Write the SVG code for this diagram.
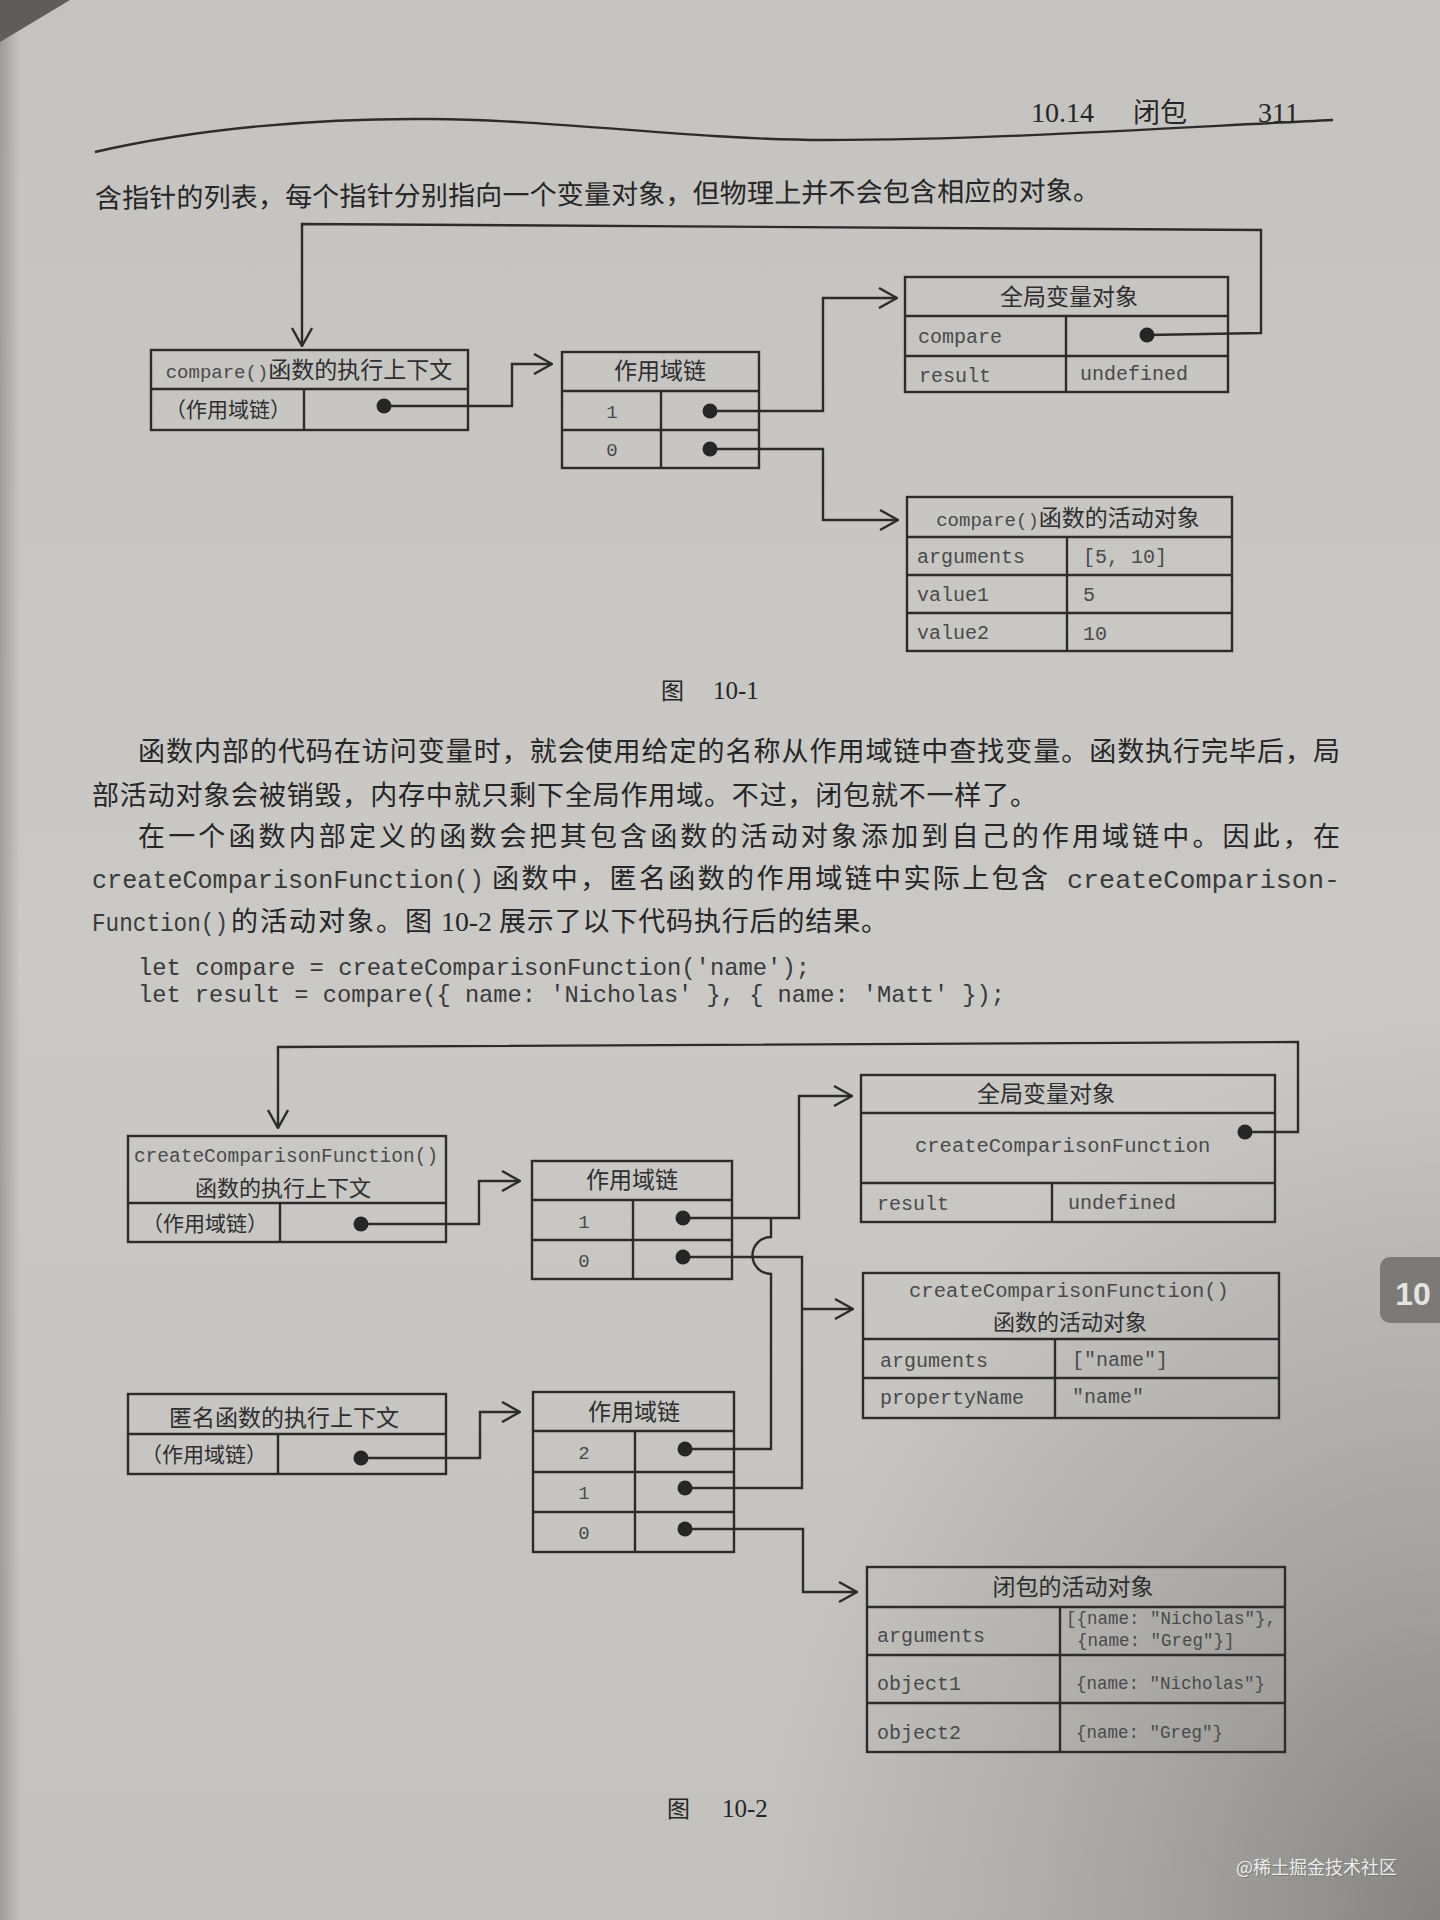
<svg xmlns="http://www.w3.org/2000/svg" width="1440" height="1920" viewBox="0 0 1440 1920">
<defs>
<style>
.ln{fill:none;stroke:#2c2c2c;stroke-width:2.4;stroke-linejoin:miter}
.bx{fill:none;stroke:#2c2c2c;stroke-width:2.4}
.cn{font-family:"Noto Sans CJK SC",sans-serif;fill:#2e2e2e}
.mono{font-family:"Liberation Mono","DejaVu Sans Mono",monospace;fill:#4a4a4a}
.body{font-family:"Liberation Serif","Noto Sans CJK SC",serif;fill:#262626;font-size:27px}
.bmono{font-family:"Liberation Mono",monospace;fill:#3a3a3a;font-size:25px}
.code{font-family:"Liberation Mono",monospace;fill:#3a3a3a;font-size:24px}
.dot{fill:#262626}
</style>
<marker id="ar" viewBox="0 0 20 22" refX="19" refY="11" markerWidth="20" markerHeight="22" markerUnits="userSpaceOnUse" orient="auto">
<path d="M1,1 L19,11 L1,21" fill="none" stroke="#2c2c2c" stroke-width="2.4"/>
</marker>
<radialGradient id="shadeBR" cx="1440" cy="1920" r="900" gradientUnits="userSpaceOnUse" gradientTransform="translate(1440 1920) scale(0.75 1) translate(-1440 -1920)">
<stop offset="0" stop-color="#6f6e6b" stop-opacity="0.75"/>
<stop offset="0.6" stop-color="#8a8986" stop-opacity="0.35"/>
<stop offset="1" stop-color="#8a8986" stop-opacity="0"/>
</radialGradient>
<linearGradient id="shadeL" x1="0" y1="0" x2="1" y2="0">
<stop offset="0" stop-color="#7d7c79" stop-opacity="0.55"/>
<stop offset="1" stop-color="#7d7c79" stop-opacity="0"/>
</linearGradient>
<linearGradient id="paper" x1="0" y1="0" x2="0" y2="1">
<stop offset="0" stop-color="#c4c3bf"/>
<stop offset="0.5" stop-color="#cac9c5"/>
<stop offset="1" stop-color="#c2c1bd"/>
</linearGradient>
</defs>

<!-- page background -->
<rect x="0" y="0" width="1440" height="1920" fill="url(#paper)"/>
<rect x="0" y="0" width="1440" height="1920" fill="url(#shadeBR)"/>
<rect x="0" y="0" width="20" height="1920" fill="url(#shadeL)"/>
<polygon points="0,0 70,0 0,42" fill="#5e5d5a"/>

<!-- header -->
<path class="ln" d="M95,152 C200,128 320,118 430,119 C560,120 700,140 826,140 C1000,140 1200,126 1333,120" stroke-width="2.6"/>
<text x="1031" y="122" font-family="Liberation Serif, serif" font-size="28" fill="#262626">10.14</text>
<text x="1133" y="122" font-family="Liberation Serif, Noto Sans CJK SC, serif" font-size="27" fill="#262626">闭包</text>
<text x="1258" y="122" font-family="Liberation Serif, serif" font-size="28" fill="#262626">311</text>

<text class="body" x="95" y="208" textLength="1005" lengthAdjust="spacing" transform="rotate(-0.45 95 208)">含指针的列表，每个指针分别指向一个变量对象，但物理上并不会包含相应的对象。</text>

<!-- ===== Figure 10-1 ===== -->
<g id="fig1-connectors">
<path class="ln" d="M1147,335 L1261,333 L1261,230 L302,224 L302,346" marker-end="url(#ar)"/>
<path class="ln" d="M384,406 H512 V364 H552" marker-end="url(#ar)"/>
<path class="ln" d="M710,411 H823 V298 H897" marker-end="url(#ar)"/>
<path class="ln" d="M710,449 H823 V520 H898" marker-end="url(#ar)"/>
</g>

<g id="f1-compare-context">
<rect class="bx" x="151" y="350" width="317" height="80"/>
<line class="bx" x1="151" y1="389" x2="468" y2="389"/>
<line class="bx" x1="304" y1="389" x2="304" y2="430"/>
<text x="309" y="378" text-anchor="middle"><tspan class="mono" font-size="19">compare()</tspan><tspan class="cn" font-size="23">函数的执行上下文</tspan></text>
<text class="cn" x="228" y="417" font-size="21" text-anchor="middle">（作用域链）</text>
<circle class="dot" cx="384" cy="406" r="7.5"/>
</g>

<g id="f1-scope-chain">
<rect class="bx" x="562" y="352" width="197" height="116"/>
<line class="bx" x1="562" y1="391" x2="759" y2="391"/>
<line class="bx" x1="562" y1="430" x2="759" y2="430"/>
<line class="bx" x1="661" y1="391" x2="661" y2="468"/>
<text class="cn" x="660" y="379" font-size="23" text-anchor="middle">作用域链</text>
<text class="mono" x="612" y="418" font-size="19" text-anchor="middle">1</text>
<text class="mono" x="612" y="456" font-size="19" text-anchor="middle">0</text>
<circle class="dot" cx="710" cy="411" r="7.5"/>
<circle class="dot" cx="710" cy="449" r="7.5"/>
</g>

<g id="f1-global-object">
<rect class="bx" x="905" y="277" width="323" height="115"/>
<line class="bx" x1="905" y1="316" x2="1228" y2="316"/>
<line class="bx" x1="905" y1="356" x2="1228" y2="356"/>
<line class="bx" x1="1066" y1="316" x2="1066" y2="392"/>
<text class="cn" x="1069" y="305" font-size="23" text-anchor="middle">全局变量对象</text>
<text class="mono" x="918" y="343" font-size="20">compare</text>
<text class="mono" x="919" y="382" font-size="20">result</text>
<text class="mono" x="1080" y="380" font-size="20">undefined</text>
<circle class="dot" cx="1147" cy="335" r="7.5"/>
</g>

<g id="f1-activation-object">
<rect class="bx" x="907" y="497" width="325" height="154"/>
<line class="bx" x1="907" y1="537" x2="1232" y2="537"/>
<line class="bx" x1="907" y1="575" x2="1232" y2="575"/>
<line class="bx" x1="907" y1="613" x2="1232" y2="613"/>
<line class="bx" x1="1067" y1="537" x2="1067" y2="651"/>
<text x="1068" y="526" text-anchor="middle"><tspan class="mono" font-size="19">compare()</tspan><tspan class="cn" font-size="23">函数的活动对象</tspan></text>
<text class="mono" x="917" y="563" font-size="20">arguments</text>
<text class="mono" x="1083" y="563" font-size="20">[5, 10]</text>
<text class="mono" x="917" y="601" font-size="20">value1</text>
<text class="mono" x="1083" y="601" font-size="20">5</text>
<text class="mono" x="917" y="639" font-size="20">value2</text>
<text class="mono" x="1083" y="640" font-size="20">10</text>
</g>

<text x="661" y="699" font-family="Liberation Serif, Noto Sans CJK SC, serif" font-size="23" fill="#262626">图</text>
<text x="713" y="699" font-family="Liberation Serif, serif" font-size="25" fill="#262626">10-1</text>

<!-- body text -->
<text class="body" x="138" y="761" textLength="1202" lengthAdjust="spacing">函数内部的代码在访问变量时，就会使用给定的名称从作用域链中查找变量。函数执行完毕后，局</text>
<text class="body" x="92" y="805" textLength="945" lengthAdjust="spacing">部活动对象会被销毁，内存中就只剩下全局作用域。不过，闭包就不一样了。</text>
<text class="body" x="138" y="846" textLength="1202" lengthAdjust="spacing">在一个函数内部定义的函数会把其包含函数的活动对象添加到自己的作用域链中。因此，在</text>
<text class="bmono" x="92" y="888" textLength="392" lengthAdjust="spacingAndGlyphs">createComparisonFunction()</text>
<text class="body" x="492" y="888" textLength="556" lengthAdjust="spacing">函数中，匿名函数的作用域链中实际上包含</text>
<text class="bmono" x="1067" y="888" textLength="273" lengthAdjust="spacingAndGlyphs">createComparison-</text>
<text class="bmono" x="92" y="931" textLength="136" lengthAdjust="spacingAndGlyphs">Function()</text>
<text class="body" x="231" y="931" textLength="201" lengthAdjust="spacing">的活动对象。图</text>
<text class="body" x="441" y="931" textLength="51" lengthAdjust="spacingAndGlyphs">10-2</text>
<text class="body" x="499" y="931" textLength="389" lengthAdjust="spacing">展示了以下代码执行后的结果。</text>
<text class="code" x="138" y="975" textLength="672" lengthAdjust="spacingAndGlyphs" xml:space="preserve">let compare = createComparisonFunction('name');</text>
<text class="code" x="138" y="1002" textLength="867" lengthAdjust="spacingAndGlyphs" xml:space="preserve">let result = compare({ name: 'Nicholas' }, { name: 'Matt' });</text>

<!-- ===== Figure 10-2 ===== -->
<g id="fig2-connectors">
<path class="ln" d="M1245,1132 H1298 V1042 L278,1047 V1128" marker-end="url(#ar)"/>
<path class="ln" d="M361,1224 H479 V1181 H520" marker-end="url(#ar)"/>
<path class="ln" d="M683,1218 H799 V1096 H852" marker-end="url(#ar)"/>
<path class="ln" d="M683,1257 H802 V1488 H685"/>
<path class="ln" d="M802,1309 H853" marker-end="url(#ar)"/>
<path class="ln" d="M685,1449 H771 V1274 A18.5,18.5 0 0,1 771,1237 V1218"/>
<path class="ln" d="M685,1529 H803 V1592 H857" marker-end="url(#ar)"/>
<path class="ln" d="M361,1458 H480 V1412 H520" marker-end="url(#ar)"/>
</g>

<g id="f2-ccf-context">
<rect class="bx" x="128" y="1136" width="318" height="106"/>
<line class="bx" x1="128" y1="1203" x2="446" y2="1203"/>
<line class="bx" x1="280" y1="1203" x2="280" y2="1242"/>
<text class="mono" x="286" y="1162" font-size="19.5" text-anchor="middle">createComparisonFunction()</text>
<text class="cn" x="283" y="1196" font-size="22" text-anchor="middle">函数的执行上下文</text>
<text class="cn" x="205" y="1231" font-size="21" text-anchor="middle">（作用域链）</text>
<circle class="dot" cx="361" cy="1224" r="7.5"/>
</g>

<g id="f2-scope-chain-1">
<rect class="bx" x="532" y="1161" width="200" height="118"/>
<line class="bx" x1="532" y1="1200" x2="732" y2="1200"/>
<line class="bx" x1="532" y1="1240" x2="732" y2="1240"/>
<line class="bx" x1="633" y1="1200" x2="633" y2="1279"/>
<text class="cn" x="632" y="1188" font-size="23" text-anchor="middle">作用域链</text>
<text class="mono" x="584" y="1228" font-size="19" text-anchor="middle">1</text>
<text class="mono" x="584" y="1267" font-size="19" text-anchor="middle">0</text>
<circle class="dot" cx="683" cy="1218" r="7.5"/>
<circle class="dot" cx="683" cy="1257" r="7.5"/>
</g>

<g id="f2-global-object">
<rect class="bx" x="861" y="1075" width="414" height="147"/>
<line class="bx" x1="861" y1="1113" x2="1275" y2="1113"/>
<line class="bx" x1="861" y1="1183" x2="1275" y2="1183"/>
<line class="bx" x1="1052" y1="1183" x2="1052" y2="1222"/>
<text class="cn" x="1046" y="1102" font-size="23" text-anchor="middle">全局变量对象</text>
<text class="mono" x="915" y="1152" font-size="20.5">createComparisonFunction</text>
<text class="mono" x="877" y="1210" font-size="20">result</text>
<text class="mono" x="1068" y="1209" font-size="20">undefined</text>
<circle class="dot" cx="1245" cy="1132" r="7.5"/>
</g>

<g id="f2-ccf-activation-object">
<rect class="bx" x="863" y="1273" width="416" height="145"/>
<line class="bx" x1="863" y1="1339" x2="1279" y2="1339"/>
<line class="bx" x1="863" y1="1378" x2="1279" y2="1378"/>
<line class="bx" x1="1055" y1="1339" x2="1055" y2="1418"/>
<text class="mono" x="1069" y="1297" font-size="20.5" text-anchor="middle">createComparisonFunction()</text>
<text class="cn" x="1070" y="1330" font-size="22" text-anchor="middle">函数的活动对象</text>
<text class="mono" x="880" y="1367" font-size="20">arguments</text>
<text class="mono" x="1072" y="1366" font-size="20">["name"]</text>
<text class="mono" x="880" y="1404" font-size="20">propertyName</text>
<text class="mono" x="1072" y="1403" font-size="20">"name"</text>
</g>

<g id="f2-anonymous-context">
<rect class="bx" x="128" y="1394" width="318" height="80"/>
<line class="bx" x1="128" y1="1434" x2="446" y2="1434"/>
<line class="bx" x1="278" y1="1434" x2="278" y2="1474"/>
<text class="cn" x="284" y="1426" font-size="23" text-anchor="middle">匿名函数的执行上下文</text>
<text class="cn" x="204" y="1462" font-size="21" text-anchor="middle">（作用域链）</text>
<circle class="dot" cx="361" cy="1458" r="7.5"/>
</g>

<g id="f2-scope-chain-2">
<rect class="bx" x="533" y="1392" width="201" height="160"/>
<line class="bx" x1="533" y1="1431" x2="734" y2="1431"/>
<line class="bx" x1="533" y1="1472" x2="734" y2="1472"/>
<line class="bx" x1="533" y1="1512" x2="734" y2="1512"/>
<line class="bx" x1="635" y1="1431" x2="635" y2="1552"/>
<text class="cn" x="634" y="1420" font-size="23" text-anchor="middle">作用域链</text>
<text class="mono" x="584" y="1459" font-size="19" text-anchor="middle">2</text>
<text class="mono" x="584" y="1499" font-size="19" text-anchor="middle">1</text>
<text class="mono" x="584" y="1539" font-size="19" text-anchor="middle">0</text>
<circle class="dot" cx="685" cy="1449" r="7.5"/>
<circle class="dot" cx="685" cy="1488" r="7.5"/>
<circle class="dot" cx="685" cy="1529" r="7.5"/>
</g>

<g id="f2-closure-activation-object">
<rect class="bx" x="867" y="1567" width="418" height="185"/>
<line class="bx" x1="867" y1="1607" x2="1285" y2="1607"/>
<line class="bx" x1="867" y1="1655" x2="1285" y2="1655"/>
<line class="bx" x1="867" y1="1703" x2="1285" y2="1703"/>
<line class="bx" x1="1060" y1="1607" x2="1060" y2="1752"/>
<text class="cn" x="1073" y="1595" font-size="23" text-anchor="middle">闭包的活动对象</text>
<text class="mono" x="877" y="1642" font-size="20">arguments</text>
<text class="mono" x="1066" y="1624" font-size="17.5" xml:space="preserve">[{name: "Nicholas"},</text>
<text class="mono" x="1077" y="1646" font-size="17.5" xml:space="preserve">{name: "Greg"}]</text>
<text class="mono" x="877" y="1690" font-size="20">object1</text>
<text class="mono" x="1076" y="1689" font-size="17.5" xml:space="preserve">{name: "Nicholas"}</text>
<text class="mono" x="877" y="1739" font-size="20">object2</text>
<text class="mono" x="1076" y="1738" font-size="17.5" xml:space="preserve">{name: "Greg"}</text>
</g>

<text x="667" y="1817" font-family="Liberation Serif, Noto Sans CJK SC, serif" font-size="23" fill="#262626">图</text>
<text x="722" y="1817" font-family="Liberation Serif, serif" font-size="25" fill="#262626">10-2</text>

<!-- side tab -->
<rect x="1380" y="1257" width="80" height="66" rx="10" fill="#7b7a77"/>
<text x="1413" y="1305" font-family="Liberation Sans, sans-serif" font-size="32" font-weight="bold" fill="#e4e4e1" text-anchor="middle">10</text>

<!-- watermark -->
<text x="1236" y="1874" font-family="Noto Sans CJK SC, sans-serif" font-size="18" fill="#5a5a58" opacity="0.5" transform="translate(1 1)">@稀土掘金技术社区</text>
<text x="1236" y="1874" font-family="Noto Sans CJK SC, sans-serif" font-size="18" fill="#ececea">@稀土掘金技术社区</text>
</svg>
